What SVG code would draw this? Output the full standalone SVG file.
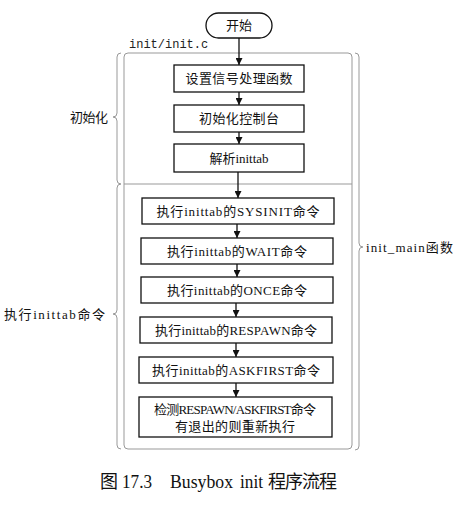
<svg xmlns="http://www.w3.org/2000/svg" width="473" height="511" viewBox="0 0 473 511">
<style>
.box{fill:#fff;stroke:#111;stroke-width:1.3}
.t{font-family:"Liberation Serif","Noto Sans CJK SC",serif;font-size:13px;fill:#111}
.lbl{font-family:"Liberation Mono","Noto Sans CJK SC",monospace;font-size:12px;fill:#222}
.cap{font-family:"Liberation Serif","Noto Sans CJK SC",serif;font-size:18px;fill:#111}
.frame{fill:none;stroke:#999;stroke-width:1}
.edge{stroke:#111;stroke-width:1.3;fill:none;marker-end:url(#ah)}
</style>
<defs>
<marker id="ah" viewBox="0 0 10 10" refX="10" refY="5" markerWidth="7" markerHeight="7" markerUnits="userSpaceOnUse" orient="auto">
<path d="M0,0 L10,5 L0,10 Z" fill="#111"/>
</marker>
</defs>
<rect width="473" height="511" fill="#fff"/>
<g id="frame">
<rect class="frame" x="124" y="53" width="228" height="396" rx="4"/>
<line class="frame" x1="124" y1="184" x2="352" y2="184"/>
<path class="frame" d="M121,53 Q117,53 117,57 L117,113 Q117,117 113,117 Q117,117 117,121 L117,180 Q117,184 121,184 Q117,184 117,188 L117,310 Q117,314 113,314 Q117,314 117,318 L117,445 Q117,449 121,449"/>
<path class="frame" d="M355,53 Q359,53 359,57 L359,243 Q359,247 363,247 Q359,247 359,251 L359,446 Q359,450 355,450"/>
<text class="lbl" x="129" y="48" font-size="11">init/init.c</text>
<text class="t" x="70" y="122" textLength="38" lengthAdjust="spacing">初始化</text>
<text class="t" x="4" y="319" textLength="101" lengthAdjust="spacing">执行inittab命令</text>
<text class="t" x="366" y="252" textLength="87" lengthAdjust="spacing">init_main函数</text>
</g>
<g id="start">
<rect class="box" x="206" y="13" width="66" height="25" rx="12.5"/>
<text class="t" x="239" y="30" text-anchor="middle">开始</text>
</g>
<g id="n1">
<rect class="box" x="174" y="65" width="130" height="27"/>
<text class="t" x="239" y="83" text-anchor="middle" textLength="107" lengthAdjust="spacing">设置信号处理函数</text>
</g>
<g id="n2">
<rect class="box" x="174" y="105" width="130" height="27"/>
<text class="t" x="239" y="123" text-anchor="middle" textLength="80" lengthAdjust="spacing">初始化控制台</text>
</g>
<g id="n3">
<rect class="box" x="174" y="144" width="130" height="28"/>
<text class="t" x="239" y="163" text-anchor="middle">解析inittab</text>
</g>
<g id="n4">
<rect class="box" x="142" y="198" width="192" height="26"/>
<text class="t" x="238" y="216" text-anchor="middle" textLength="163" lengthAdjust="spacing">执行inittab的SYSINIT命令</text>
</g>
<g id="n5">
<rect class="box" x="141" y="238" width="192" height="26"/>
<text class="t" x="237" y="256" text-anchor="middle" textLength="140" lengthAdjust="spacing">执行inittab的WAIT命令</text>
</g>
<g id="n6">
<rect class="box" x="141" y="277" width="192" height="26"/>
<text class="t" x="237" y="295" text-anchor="middle" textLength="140" lengthAdjust="spacing">执行inittab的ONCE命令</text>
</g>
<g id="n7">
<rect class="box" x="140" y="317" width="192" height="26"/>
<text class="t" x="236" y="335" text-anchor="middle" textLength="162" lengthAdjust="spacing">执行inittab的RESPAWN命令</text>
</g>
<g id="n8">
<rect class="box" x="139" y="357" width="194" height="26"/>
<text class="t" x="236" y="375" text-anchor="middle" textLength="168" lengthAdjust="spacing">执行inittab的ASKFIRST命令</text>
</g>
<g id="n9">
<rect class="box" x="139" y="397" width="193" height="40"/>
<text class="t" x="235" y="414" text-anchor="middle" textLength="162" lengthAdjust="spacing">检测RESPAWN/ASKFIRST命令</text>
<text class="t" x="235" y="431" text-anchor="middle" textLength="120" lengthAdjust="spacing">有退出的则重新执行</text>
</g>
<g id="connectors">
<line class="edge" x1="239" y1="38" x2="239" y2="65"/>
<line class="edge" x1="239" y1="92" x2="239" y2="105"/>
<line class="edge" x1="239" y1="132" x2="239" y2="144"/>
<line class="edge" x1="238" y1="172" x2="238" y2="198"/>
<line class="edge" x1="237" y1="224" x2="237" y2="238"/>
<line class="edge" x1="237" y1="264" x2="237" y2="277"/>
<line class="edge" x1="236" y1="303" x2="236" y2="317"/>
<line class="edge" x1="236" y1="343" x2="236" y2="357"/>
<line class="edge" x1="236" y1="383" x2="236" y2="397"/>
</g>
<g id="caption">
<text class="cap" x="100" y="488">图</text>
<text class="cap" x="122" y="488" textLength="30" lengthAdjust="spacingAndGlyphs">17.3</text>
<text class="cap" x="170" y="488" textLength="63" lengthAdjust="spacingAndGlyphs">Busybox</text>
<text class="cap" x="240" y="488" textLength="23" lengthAdjust="spacingAndGlyphs">init</text>
<text class="cap" x="268" y="488" textLength="69" lengthAdjust="spacing">程序流程</text>
</g>
</svg>
